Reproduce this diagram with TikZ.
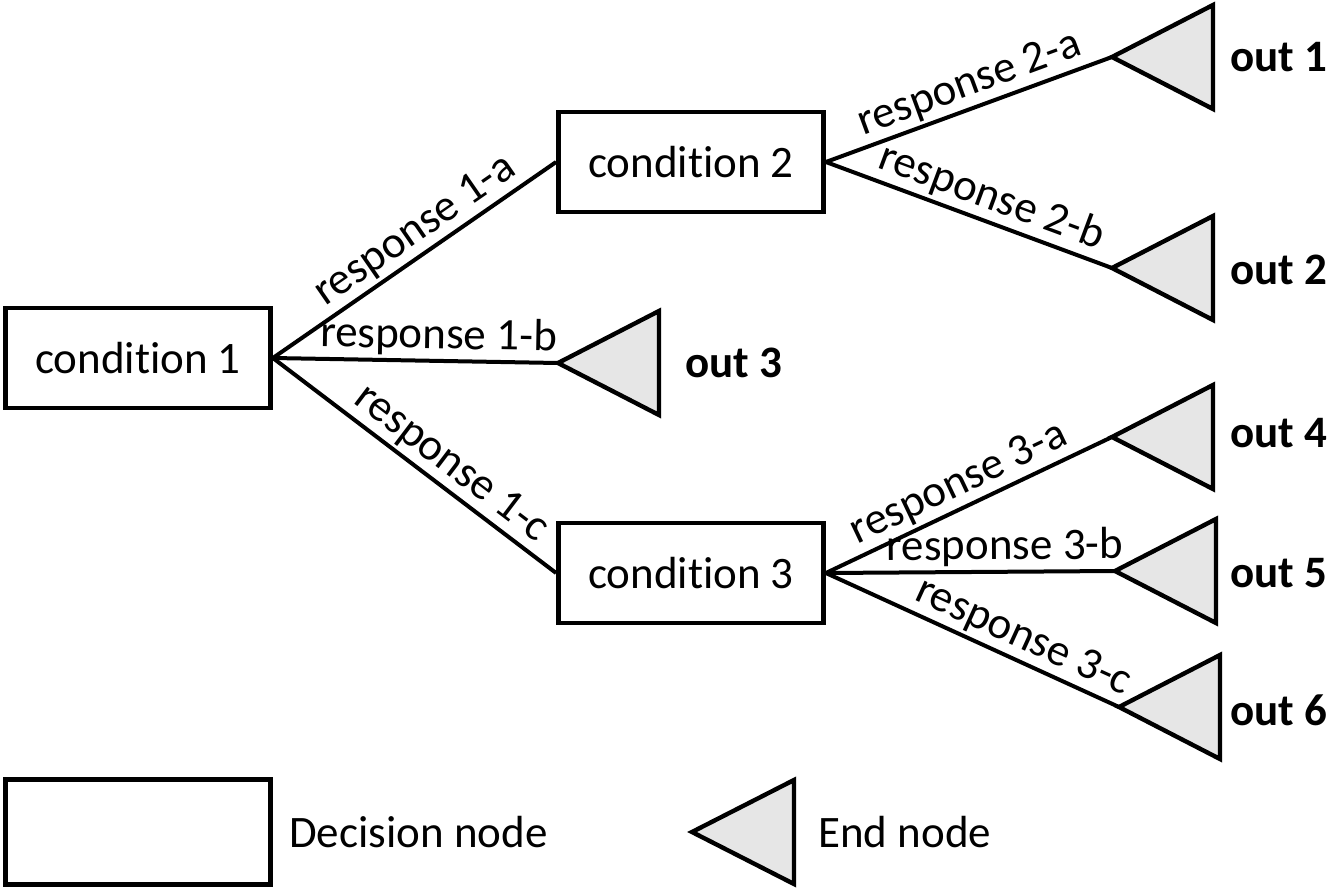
\documentclass[tikz,border=0pt]{standalone}
\usepackage{fontspec}
\setmainfont[RawFeature={-liga;-clig;-calt}]{Carlito}
\usepackage{xcolor}
\usetikzlibrary{positioning,calc}
\definecolor{EndNodeBackground}{HTML}{E6E6E6}
\tikzstyle{DecisionNode} =[draw,line width=2.4pt,minimum width=132.5pt,minimum height=50pt,inner sep=0pt,align=center]
\tikzstyle{EndNode} =[draw,line width=2.2pt,fill=EndNodeBackground,line join=miter]
\tikzstyle{Response} =[line width=2pt]
\tikzstyle{ResponseLabel} =[sloped,above,inner sep=1.5pt]
\tikzstyle{OutLabel} =[anchor=west,inner sep=0pt,font=\fontsize{22.5}{27}\selectfont\bfseries]
\tikzstyle{LegendLabel} =[inner sep=0pt]

\begin{document}
\begin{tikzpicture}[x=0.5pt,y=-0.5pt,font=\fontsize{22.5}{27}\selectfont]
\useasboundingbox (0,0) rectangle (1329,889);
\node[DecisionNode](Condition-1) at (138,358){condition 1};
\node[DecisionNode](Condition-2) at (691,162){condition 2};
\node[DecisionNode](Condition-3) at (691,573){condition 3};
\coordinate (Out-1) at (1112,57);
\coordinate (Out-2) at (1112,268);
\coordinate (Out-3) at (558,363);
\coordinate (Out-4) at (1112,437);
\coordinate (Out-5) at (1115,571);
\coordinate (Out-6) at (1119,707);
\foreach \o in {Out-1,Out-2,Out-3,Out-4,Out-5,Out-6}
  \draw[EndNode] (\o) -- ++(101,-52) -- ++(0,104) -- cycle;
\node[OutLabel](Out-1-Label) at ($(Out-1)+(118,0)$){out 1};
\node[OutLabel](Out-2-Label) at ($(Out-2)+(118,2)$){out 2};
\node[OutLabel](Out-3-Label) at ($(Out-3)+(127,0)$){out 3};
\node[OutLabel](Out-4-Label) at ($(Out-4)+(118,-4)$){out 4};
\node[OutLabel](Out-5-Label) at ($(Out-5)+(115,2)$){out 5};
\node[OutLabel](Out-6-Label) at ($(Out-6)+(111,3)$){out 6};
\draw[Response] (Condition-1.east) -- node[ResponseLabel,pos=0.55]{response 1-a} (Condition-2.west);
\draw[Response] (Condition-1.east) -- node[ResponseLabel,pos=0.58]{response 1-b} (Out-3);
\draw[Response] (Condition-1.east) -- node[ResponseLabel,pos=0.58]{response 1-c} (Condition-3.west);
\draw[Response] (Condition-2.east) -- node[ResponseLabel,pos=0.53]{response 2-a} (Out-1);
\draw[Response] (Condition-2.east) -- node[ResponseLabel,pos=0.55]{response 2-b} (Out-2);
\draw[Response] (Condition-3.east) -- node[ResponseLabel,pos=0.5]{response 3-a} (Out-4);
\draw[Response] (Condition-3.east) -- node[ResponseLabel,pos=0.62]{response 3-b} (Out-5);
\draw[Response] (Condition-3.east) -- node[ResponseLabel,pos=0.64]{response 3-c} (Out-6);
% legend
\node[DecisionNode,minimum height=52.5pt](Legend-Box) at (138,832){};
\node[LegendLabel,right=8pt of Legend-Box](Legend-Box-Label){Decision node};
\coordinate (Legend-End) at (692,832);
\draw[EndNode] (Legend-End) -- ++(102,-52) -- ++(0,104) -- cycle;
\node[LegendLabel,anchor=west](Legend-End-Label) at ($(Legend-End)+(126,0)$){End node};
\end{tikzpicture}
\end{document}
